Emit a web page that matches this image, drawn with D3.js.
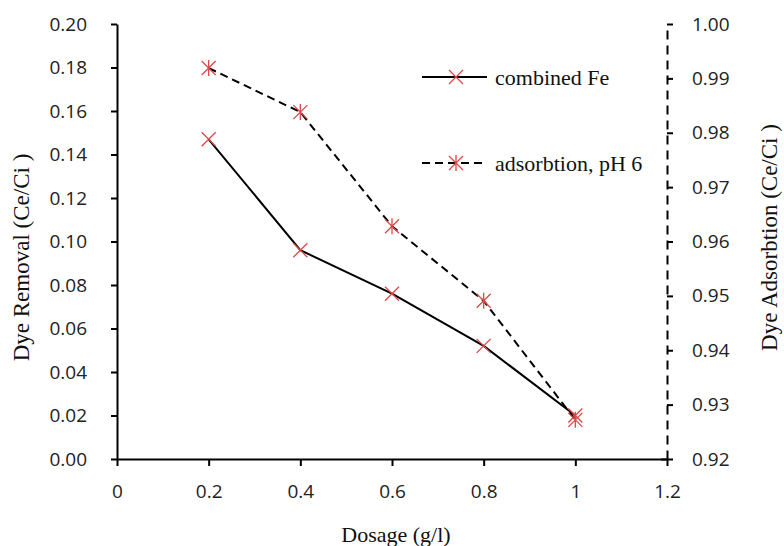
<!DOCTYPE html>
<html>
<head>
<meta charset="utf-8">
<script src="https://cdn.jsdelivr.net/npm/d3@7"></script>
<style>
  html, body { margin: 0; padding: 0; background: #fff; }
  svg { display: block; }
</style>
</head>
<body>
<svg id="chart" width="784" height="546"></svg>
<script>
// ---- Data ----
const dosage = [0.2, 0.4, 0.6, 0.8, 1.0];
const combinedFe = [0.147, 0.096, 0.076, 0.052, 0.020];
const adsorption = [0.9919, 0.9838, 0.9628, 0.9491, 0.9272];
const xTicks = [0, 0.2, 0.4, 0.6, 0.8, 1, 1.2];
const yLeftTicks = [0, 0.02, 0.04, 0.06, 0.08, 0.10, 0.12, 0.14, 0.16, 0.18, 0.20];
const yRightTicks = [0.92, 0.93, 0.94, 0.95, 0.96, 0.97, 0.98, 0.99, 1.00];
const seriesNames = ["combined Fe", "adsorbtion, pH 6"];

// ---- Layout ----
const L = 117, R = 667, T = 24, B = 459;
const svg = d3.select("#chart");
const x = d3.scaleLinear().domain([0, 1.2]).range([L, R]);
const yL = d3.scaleLinear().domain([0, 0.2]).range([B, T]);
const yR = d3.scaleLinear().domain([0.92, 1.0]).range([B, T]);

const tickFont = "'Open Sans', sans-serif";
const serif = "'Liberation Serif', 'Times New Roman', serif";
const red = "#dd4848";

function styleAxis(g) {
  g.selectAll("path.domain").attr("stroke", "#000").attr("stroke-width", 2);
  g.selectAll(".tick line").attr("stroke", "#000").attr("stroke-width", 2);
  g.selectAll(".tick text").attr("font-family", tickFont).attr("font-size", 19).attr("fill", "#222");
}

// bottom axis
const gx = svg.append("g").attr("transform", `translate(0,${B})`)
  .call(d3.axisBottom(x).tickValues(xTicks).tickFormat(d => d3.format("")(d))
    .tickSizeInner(7).tickSizeOuter(0).tickPadding(19));
styleAxis(gx);

// left axis
const gl = svg.append("g").attr("transform", `translate(${L},0)`)
  .call(d3.axisLeft(yL).tickValues(yLeftTicks).tickFormat(d3.format(".2f"))
    .tickSizeInner(6).tickSizeOuter(0).tickPadding(24));
styleAxis(gl);

// right axis (dashed)
const gr = svg.append("g").attr("transform", `translate(${R},0)`)
  .call(d3.axisRight(yR).tickValues(yRightTicks).tickFormat(d3.format(".2f"))
    .tickSizeInner(6).tickSizeOuter(0).tickPadding(19));
styleAxis(gr);
gr.select("path.domain").attr("stroke-dasharray", "9,6");
gr.selectAll(".tick").filter(d => d === 0.92).select("line").attr("x1", -6);

// axis titles
svg.append("text").attr("transform", `translate(29,${(T + B) / 2 + 16}) rotate(-90)`)
  .attr("text-anchor", "middle").attr("font-family", serif).attr("font-size", 23).attr("fill", "#111")
  .text("Dye Removal (Ce/Ci )");
svg.append("text").attr("transform", `translate(777,${(T + B) / 2 - 4}) rotate(-90)`)
  .attr("text-anchor", "middle").attr("font-family", serif).attr("font-size", 23).attr("fill", "#111")
  .text("Dye Adsorbtion (Ce/Ci )");
svg.append("text").attr("x", (L + R) / 2 + 4).attr("y", 542)
  .attr("text-anchor", "middle").attr("font-family", serif).attr("font-size", 22).attr("fill", "#111")
  .text("Dosage (g/l)");

// lines
const lineL = d3.line().x((d, i) => x(dosage[i])).y(d => yL(d));
const lineR = d3.line().x((d, i) => x(dosage[i])).y(d => yR(d));
svg.append("path").datum(combinedFe).attr("d", lineL)
  .attr("fill", "none").attr("stroke", "#000").attr("stroke-width", 2);
svg.append("path").datum(adsorption).attr("d", lineR)
  .attr("fill", "none").attr("stroke", "#000").attr("stroke-width", 2).attr("stroke-dasharray", "8,5");

// markers
function xMarker(g, cx, cy, star) {
  const s = 7;
  g.append("path").attr("d", `M${cx - s},${cy - s}L${cx + s},${cy + s}M${cx - s},${cy + s}L${cx + s},${cy - s}` +
      (star ? `M${cx},${cy - s - 1}L${cx},${cy + s + 1}` : ""))
    .attr("stroke", red).attr("stroke-width", 1.3).attr("fill", "none");
}
const mk = svg.append("g");
combinedFe.forEach((v, i) => xMarker(mk, x(dosage[i]), yL(v), false));
adsorption.forEach((v, i) => xMarker(mk, x(dosage[i]), yR(v), true));

// legend
const lg = svg.append("g");
const legY = [77, 163];
lg.append("line").attr("x1", 422).attr("x2", 487).attr("y1", legY[0]).attr("y2", legY[0])
  .attr("stroke", "#000").attr("stroke-width", 2);
lg.append("line").attr("x1", 422).attr("x2", 487).attr("y1", legY[1]).attr("y2", legY[1])
  .attr("stroke", "#000").attr("stroke-width", 2).attr("stroke-dasharray", "8,5");
xMarker(lg, 456, legY[0], false);
xMarker(lg, 456, legY[1], true);
seriesNames.forEach((n, i) => {
  lg.append("text").attr("x", 495).attr("y", legY[i] + 8)
    .attr("font-family", serif).attr("font-size", 22).attr("fill", "#111").text(n);
});
</script>
</body>
</html>
